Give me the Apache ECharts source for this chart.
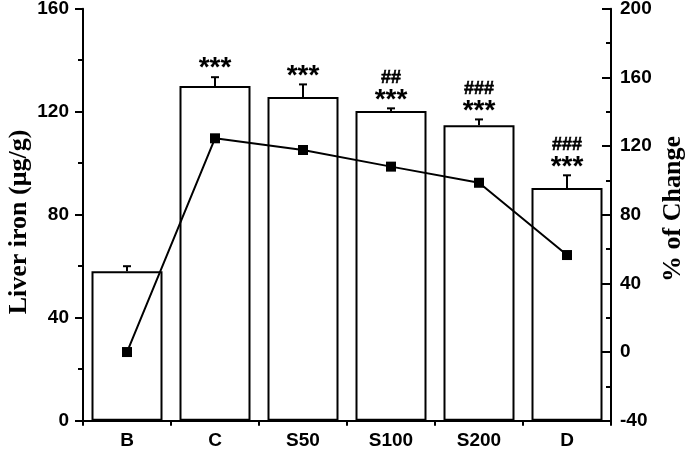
<!DOCTYPE html>
<html><head><meta charset="utf-8">
<script src="https://cdn.jsdelivr.net/npm/echarts@6/dist/echarts.min.js"></script>
<style>html,body{margin:0;padding:0;background:#fff}#c{width:685px;height:450px}</style>
</head><body><div id="c"></div>
<script>
const categories = ['B', 'C', 'S50', 'S100', 'S200', 'D'];
const ironMean = [58, 130, 125.7, 120.3, 114.7, 90.4];
const ironErrTop = [60, 133.4, 130.6, 121.3, 117, 95.3];
const pctChange = [0, 124.5, 117.7, 108, 98.6, 56.5];
const sigStars = ['', '***', '***', '***', '***', '***'];
const sigHash = ['', '', '', '##', '###', '###'];

const chart = echarts.init(document.getElementById('c'), null, {renderer: 'canvas'});
const sans = 'Liberation Sans, Arial, sans-serif';
const serif = 'Liberation Serif, Times New Roman, serif';
const errData = categories.map((c, i) => [i, ironMean[i], ironErrTop[i]]);

chart.setOption({
  animation: false,
  grid: {left: 83, right: 74, top: 8.7, bottom: 29.3, containLabel: false, outerBoundsMode: 'none'},
  xAxis: [{
    type: 'category', data: categories, boundaryGap: true,
    axisLine: {onZero: false, lineStyle: {color: '#000', width: 2}},
    axisTick: {alignWithLabel: true, length: 8, lineStyle: {color: '#000', width: 2}},
    axisLabel: {color: '#000', fontFamily: sans, fontWeight: 'bold', fontSize: 19, margin: 11}
  }, {
    type: 'category', data: categories, boundaryGap: true, position: 'bottom',
    axisLine: {show: false, onZero: false},
    axisTick: {show: true, length: 5, lineStyle: {color: '#000', width: 2}},
    axisLabel: {show: false}
  }],
  yAxis: [{
    type: 'value', min: 0, max: 160, interval: 40,
    axisLine: {show: true, lineStyle: {color: '#000', width: 2}},
    axisTick: {show: true, length: 8, lineStyle: {color: '#000', width: 2}},
    minorTick: {show: true, splitNumber: 2, length: 5, lineStyle: {color: '#000', width: 2}},
    splitLine: {show: false},
    axisLabel: {color: '#000', fontFamily: sans, fontWeight: 'bold', fontSize: 19, margin: 14}
  }, {
    type: 'value', min: -40, max: 200, interval: 40, position: 'right',
    axisLine: {show: true, lineStyle: {color: '#000', width: 2}},
    axisTick: {show: true, inside: true, length: 9, lineStyle: {color: '#000', width: 2}},
    minorTick: {show: true, splitNumber: 2, length: 5, lineStyle: {color: '#000', width: 2}},
    splitLine: {show: false},
    axisLabel: {color: '#000', fontFamily: sans, fontWeight: 'bold', fontSize: 19, margin: 9}
  }],
  graphic: [{
    type: 'text', x: 19, y: 222, rotation: Math.PI / 2,
    style: {text: 'Liver iron (μg/g)', fill: '#000', font: 'bold 26px ' + serif, textAlign: 'center', textVerticalAlign: 'middle'}
  }, {
    type: 'text', x: 673, y: 209, rotation: Math.PI / 2,
    style: {text: '% of Change', fill: '#000', font: 'bold 26px ' + serif, textAlign: 'center', textVerticalAlign: 'middle'}
  }],
  series: [{
    type: 'bar', data: ironMean, barWidth: 71, xAxisIndex: 0, yAxisIndex: 0,
    itemStyle: {color: '#fff', borderColor: '#000', borderWidth: 2}, z: 2
  }, {
    type: 'custom', xAxisIndex: 0, yAxisIndex: 0, data: errData, z: 3,
    renderItem: function (params, api) {
      const i = api.value(0);
      const base = api.coord([i, api.value(1)]);
      const top = api.coord([i, api.value(2)]);
      const stars = sigStars[i], hash = sigHash[i];
      const children = [
        {type: 'line', shape: {x1: base[0], y1: base[1], x2: top[0], y2: top[1]}, style: {stroke: '#000', lineWidth: 2}},
        {type: 'line', shape: {x1: top[0] - 4, y1: top[1], x2: top[0] + 4, y2: top[1]}, style: {stroke: '#000', lineWidth: 2}}
      ];
      if (stars) children.push({type: 'text', x: top[0], y: top[1] - 8.5,
        style: {text: stars, fill: '#000', font: 'bold 28px ' + sans, textAlign: 'center', textVerticalAlign: 'middle'}});
      if (hash) children.push({type: 'text', x: top[0], y: top[1] - 30.5,
        style: {text: hash, fill: '#000', stroke: '#000', lineWidth: 0.6, font: 'bold 18px ' + sans, textAlign: 'center', textVerticalAlign: 'middle'}});
      return {type: 'group', children: children};
    }
  }, {
    type: 'line', data: pctChange, xAxisIndex: 0, yAxisIndex: 1, z: 5,
    symbol: 'rect', symbolSize: 10,
    lineStyle: {color: '#000', width: 2}, itemStyle: {color: '#000'}
  }]
});
</script></body></html>
